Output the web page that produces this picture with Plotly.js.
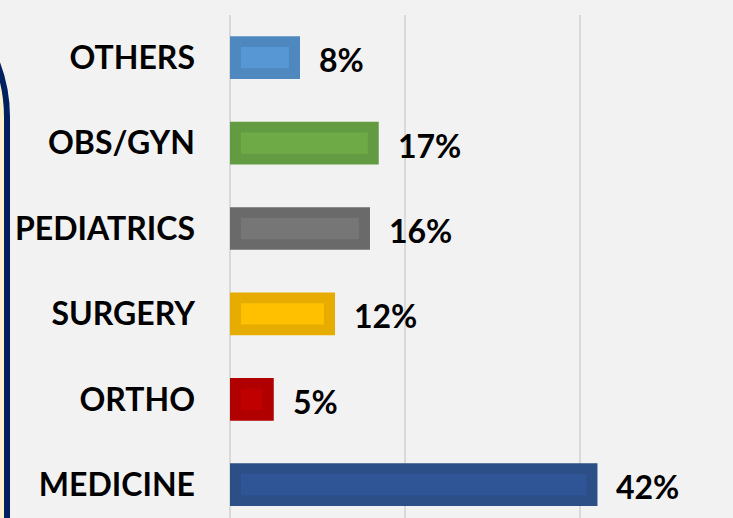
<!DOCTYPE html>
<html>
<head>
<meta charset="utf-8">
<script src="https://cdn.plot.ly/plotly-3.0.1.min.js"></script>
<style>html,body{margin:0;padding:0;background:#f2f2f2;}#chart{width:733px;height:518px;}</style>
</head>
<body>
<div id="chart"></div>
<script>
// Data (bottom to top)
const categories = ["MEDICINE", "ORTHO", "SURGERY", "PEDIATRICS", "OBS/GYN", "OTHERS"];
const values = [42, 5, 12, 16, 17, 8];
const labels = ["42%", "5%", "12%", "16%", "17%", "8%"];
const outerColors = ["#2c4f88", "#b00000", "#e6ac00", "#6a6a6a", "#629b41", "#4f87bf"];
const innerColors = ["#2f5597", "#c00000", "#ffc000", "#767676", "#6eab47", "#5797d4"];

const W = 733, H = 518, ML = 230, MT = 15;
const plotW = W - ML, plotH = H - MT;
const xMax = 57.49;
const pxPerUnit = plotW / xMax;
const insetUnits = 11 / pxPerUnit;
const FONT = "Lato, 'Open Sans', sans-serif";

const outer = {
  type: "bar", orientation: "h", y: categories, x: values,
  marker: {color: outerColors, line: {width: 0}},
  width: 0.5, hoverinfo: "none"
};
const inner = {
  type: "bar", orientation: "h", y: categories,
  x: values.map(v => Math.max(v - 2 * insetUnits, 0)),
  base: values.map(() => insetUnits),
  marker: {color: innerColors, line: {width: 0}},
  width: 0.25, hoverinfo: "none"
};

const annotations = categories.map((c, i) => ({
  x: values[i], y: c, xref: "x", yref: "y",
  text: labels[i], showarrow: false, xanchor: "left", yanchor: "middle",
  xshift: 17, yshift: -2,
  font: {family: FONT, size: 32, color: "#000000", weight: 700}
}));

// decorative left frame (pixel -> paper)
const px = x => (x - ML) / plotW;
const py = y => (H - y) / plotH;
const path = `M ${px(-300)} ${py(-33)} L ${px(-143)} ${py(-33)} C ${px(-60)} ${py(-33)} ${px(7)} ${py(34)} ${px(7)} ${py(117)} L ${px(7)} ${py(620)} L ${px(-300)} ${py(620)} Z`;

const layout = {
  width: W, height: H,
  margin: {l: ML, r: 0, t: MT, b: 0, pad: 0},
  paper_bgcolor: "#f2f2f2", plot_bgcolor: "#f2f2f2",
  barmode: "overlay", showlegend: false,
  xaxis: {range: [0, xMax], dtick: 20, tick0: 0, showgrid: true, gridcolor: "#d9d9d9", gridwidth: 2,
          zeroline: true, zerolinecolor: "#d9d9d9", zerolinewidth: 2, showticklabels: false, fixedrange: true},
  yaxis: {type: "category", categoryorder: "array", categoryarray: categories, range: [-0.39, 5.5],
          showgrid: false, zeroline: false, ticks: "", ticklabelstandoff: 34,
          tickfont: {family: FONT, size: 32, color: "#000000", weight: 700}, fixedrange: true},
  annotations: annotations,
  shapes: [{type: "path", xref: "paper", yref: "paper", path: path,
            fillcolor: "#fff2cc", line: {color: "#002060", width: 6}, layer: "above"}]
};

Plotly.newPlot("chart", [outer, inner], layout, {displayModeBar: false, staticPlot: true});
</script>
</body>
</html>
